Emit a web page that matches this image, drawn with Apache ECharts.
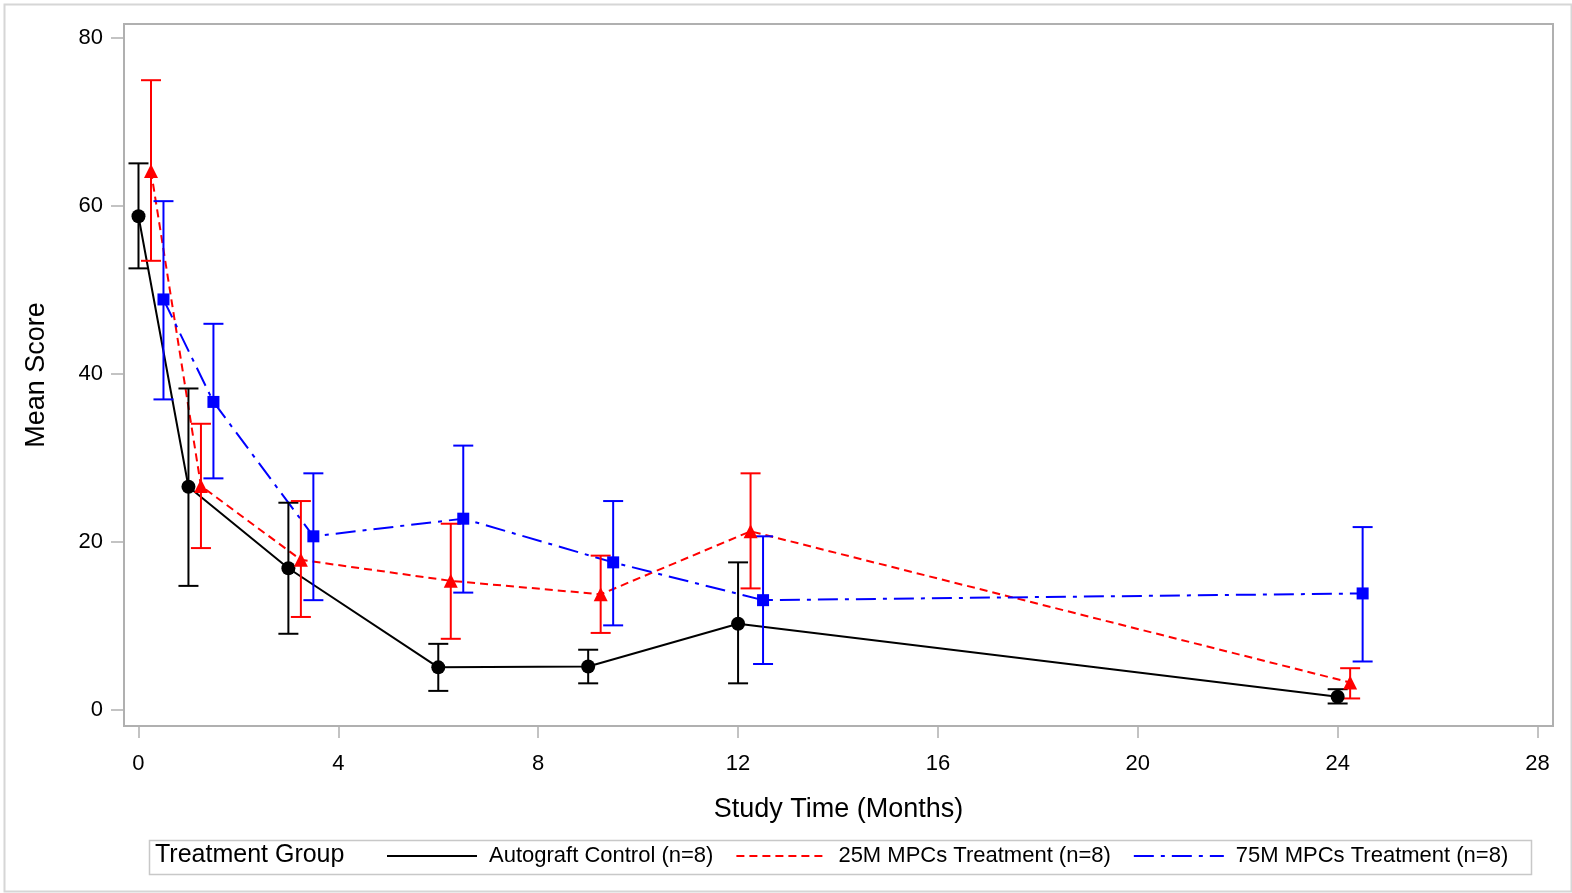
<!DOCTYPE html>
<html>
<head>
<meta charset="utf-8">
<script src="https://cdn.jsdelivr.net/npm/echarts@6/dist/echarts.min.js"></script>
<style>
html,body{margin:0;padding:0;background:#fff;}
#chart{width:1572px;height:893px;}
</style>
</head>
<body>
<div id="chart"></div>
<script>
// ---- data ----
const months = [0, 1, 3, 6, 9, 12, 24];
const groupNames = ['Autograft Control (n=8)', '25M MPCs Treatment (n=8)', '75M MPCs Treatment (n=8)'];
const autoMean = [58.8, 26.6, 16.9, 5.1, 5.2, 10.3, 1.6];
const autoLow  = [52.6, 14.8, 9.1, 2.3, 3.2, 3.2, 0.8];
const autoHigh = [65.1, 38.3, 24.7, 7.9, 7.2, 17.6, 2.5];
const mpc25Mean = [64.2, 26.7, 17.9, 15.4, 13.8, 21.3, 3.3];
const mpc25Low  = [53.5, 19.3, 11.1, 8.5, 9.2, 14.5, 1.4];
const mpc25High = [75.0, 34.1, 24.9, 22.2, 18.4, 28.2, 5.0];
const mpc75Mean = [48.9, 36.7, 20.7, 22.8, 17.6, 13.1, 13.9];
const mpc75Low  = [37.0, 27.6, 13.1, 14.0, 10.1, 5.5, 5.8];
const mpc75High = [60.6, 46.0, 28.2, 31.5, 24.9, 20.7, 21.8];
const xTicks = [0, 4, 8, 12, 16, 20, 24, 28];
const yTicks = [0, 20, 40, 60, 80];
// display dodge (months) per group
const dodge = [0, 0.25, 0.5];

const colors = ['#000000', '#ff0000', '#0000ff'];
const lineTypes = ['solid', [8, 5], [20, 7, 4, 7]];
const symbols = ['circle', 'triangle', 'rect'];
const symbolSizes = [14, 14, 12];
const means = [autoMean, mpc25Mean, mpc75Mean];
const lows = [autoLow, mpc25Low, mpc75Low];
const highs = [autoHigh, mpc25High, mpc75High];
const FONT = "'Liberation Sans', Arial, sans-serif";

const series = [];
for (let g = 0; g < 3; g++) {
  const pts = months.map((m, i) => [m + dodge[g], means[g][i]]);
  const bars = months.map((m, i) => [m + dodge[g], lows[g][i], highs[g][i]]);
  series.push({
    name: groupNames[g], type: 'line', data: pts, symbol: 'none',
    lineStyle: { color: colors[g], width: 2, type: lineTypes[g] },
    itemStyle: { color: colors[g] }, z: 3, animation: false
  });
  series.push({
    name: 'err' + g, type: 'custom', data: bars, z: 4, animation: false,
    renderItem: function (params, api) {
      const x = api.value(0);
      const lo = api.coord([x, api.value(1)]);
      const hi = api.coord([x, api.value(2)]);
      const hw = 10;
      const st = { stroke: colors[g], lineWidth: 2, fill: null };
      return {
        type: 'group', children: [
          { type: 'line', shape: { x1: lo[0], y1: lo[1], x2: hi[0], y2: hi[1] }, style: st },
          { type: 'line', shape: { x1: lo[0] - hw, y1: lo[1], x2: lo[0] + hw, y2: lo[1] }, style: st },
          { type: 'line', shape: { x1: hi[0] - hw, y1: hi[1], x2: hi[0] + hw, y2: hi[1] }, style: st }
        ]
      };
    }
  });
  series.push({
    name: 'pt' + g, type: 'scatter', data: pts, symbol: symbols[g], symbolSize: symbolSizes[g],
    itemStyle: { color: colors[g], opacity: 1 }, z: 5, animation: false
  });
}

const chart = echarts.init(document.getElementById('chart'), null, { renderer: 'canvas' });
chart.setOption({
  backgroundColor: '#ffffff',
  animation: false,
  textStyle: { fontFamily: FONT },
  grid: { left: 124, right: 19, top: 24, bottom: 167, show: true, borderColor: '#b0b0b0', borderWidth: 2, containLabel: false },
  xAxis: {
    type: 'value', min: -0.29, max: 28.31,
    name: 'Study Time (Months)', nameLocation: 'middle', nameGap: 70,
    nameTextStyle: { fontSize: 27, color: '#000', fontFamily: FONT },
    axisLine: { show: true, onZero: false, lineStyle: { color: '#b0b0b0', width: 2 } },
    axisTick: { show: true, inside: false, length: 12, lineStyle: { color: '#b0b0b0', width: 1.5 }, customValues: xTicks },
    axisLabel: { customValues: xTicks, fontSize: 22, color: '#000', margin: 27, fontFamily: FONT },
    splitLine: { show: false }
  },
  yAxis: {
    type: 'value', min: -1.88, max: 81.69,
    name: 'Mean Score', nameLocation: 'middle', nameGap: 74,
    nameTextStyle: { fontSize: 27, color: '#000', fontFamily: FONT },
    axisLine: { show: true, onZero: false, lineStyle: { color: '#b0b0b0', width: 2 } },
    axisTick: { show: true, inside: false, length: 13, lineStyle: { color: '#b0b0b0', width: 1.5 }, customValues: yTicks },
    axisLabel: { customValues: yTicks, fontSize: 22, color: '#000', margin: 21, fontFamily: FONT },
    splitLine: { show: false }
  },
  legend: {
    data: groupNames, left: 381, top: 840, orient: 'horizontal',
    itemWidth: 90, itemHeight: 14, itemGap: 22,
    itemStyle: { opacity: 0 },
    textStyle: { fontSize: 22, color: '#000', fontFamily: FONT, padding: [0, 0, 0, 7] },
    selectedMode: false
  },
  graphic: [
    { type: 'rect', left: 2, top: 2, shape: { width: 1567, height: 887 }, style: { fill: null, stroke: '#d6d6d6', lineWidth: 2 }, silent: true },
    { type: 'rect', left: 147, top: 838, shape: { width: 1382, height: 34 }, style: { fill: null, stroke: '#c8c8c8', lineWidth: 1.5 }, silent: true },
    { type: 'text', left: 155, top: 843, style: { text: 'Treatment Group', fontSize: 25, fill: '#000', fontFamily: FONT }, silent: true }
  ],
  series: series
});
</script>
</body>
</html>
